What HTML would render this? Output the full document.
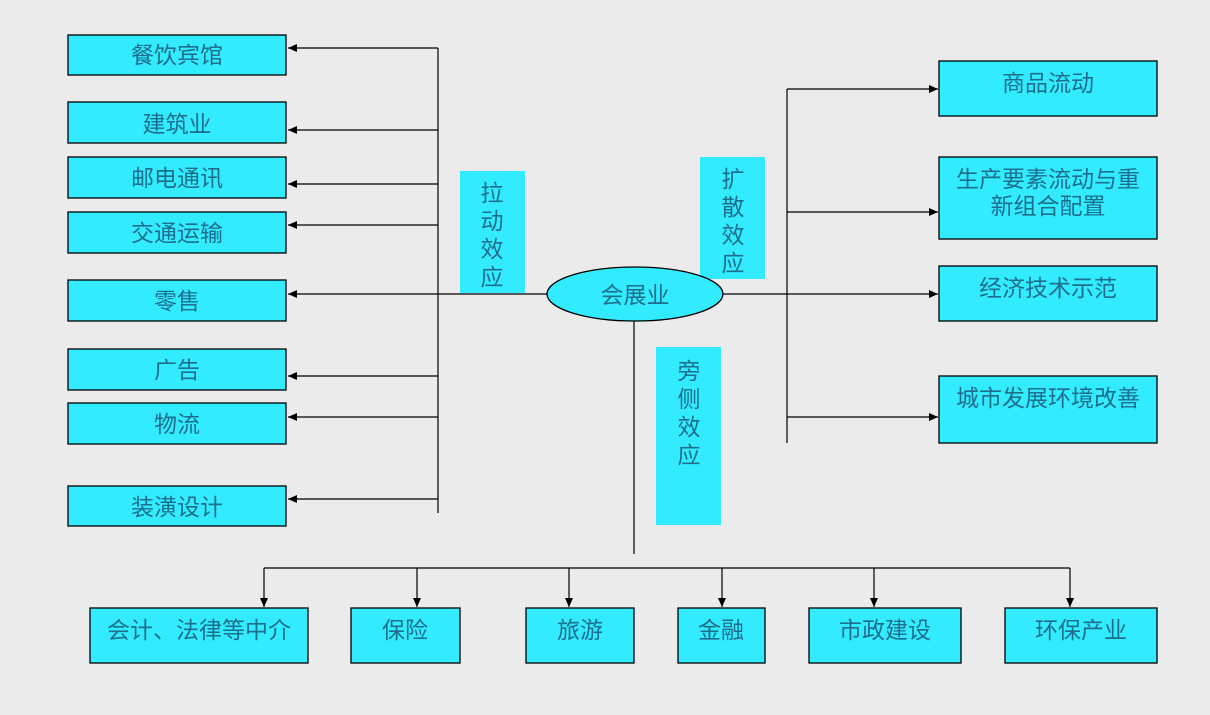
<!DOCTYPE html>
<html><head><meta charset="utf-8"><style>
html,body{margin:0;padding:0;background:#ebebeb;}
svg{display:block}
text{font-family:"Liberation Sans","Noto Sans CJK SC","WenQuanYi Zen Hei",sans-serif;font-size:23px;fill:#1d6f8c;text-anchor:middle}
</style></head><body>
<svg width="1210" height="715" viewBox="0 0 1210 715" xmlns="http://www.w3.org/2000/svg">
<defs><marker id="a" markerWidth="10" markerHeight="10" refX="9" refY="4" orient="auto" markerUnits="userSpaceOnUse"><path d="M0,0 L9,4 L0,8 z" fill="#000"/></marker></defs>
<rect width="1210" height="715" fill="#ebebeb"/>
<g stroke="#000" stroke-width="1.3" fill="#33ebff">
<rect x="68" y="35" width="218" height="40"/>
<rect x="68" y="102" width="218" height="41"/>
<rect x="68" y="157" width="218" height="41"/>
<rect x="68" y="212" width="218" height="41"/>
<rect x="68" y="280" width="218" height="41"/>
<rect x="68" y="349" width="218" height="41"/>
<rect x="68" y="403" width="218" height="41"/>
<rect x="68" y="486" width="218" height="40"/>
<rect x="939" y="61" width="218" height="55"/>
<rect x="939" y="157" width="218" height="82"/>
<rect x="939" y="266" width="218" height="55"/>
<rect x="939" y="376" width="218" height="67"/>
<rect x="90" y="608" width="218" height="55"/>
<rect x="351" y="608" width="109" height="55"/>
<rect x="526" y="608" width="108" height="55"/>
<rect x="678" y="608" width="87" height="55"/>
<rect x="809" y="608" width="152" height="55"/>
<rect x="1005" y="608" width="152" height="55"/>
</g>
<g fill="#33ebff">
<rect x="460" y="171" width="65" height="122"/>
<rect x="700" y="157" width="65" height="122"/>
<rect x="656" y="347" width="65" height="178"/>
</g>
<g stroke="#000" stroke-width="1.2" fill="none">
<line x1="438" y1="48" x2="438" y2="513"/>
<line x1="438" y1="48" x2="288" y2="48" marker-end="url(#a)"/>
<line x1="438" y1="130" x2="288" y2="130" marker-end="url(#a)"/>
<line x1="438" y1="184" x2="288" y2="184" marker-end="url(#a)"/>
<line x1="438" y1="225" x2="288" y2="225" marker-end="url(#a)"/>
<line x1="547" y1="294" x2="288" y2="294" marker-end="url(#a)"/>
<line x1="438" y1="376" x2="288" y2="376" marker-end="url(#a)"/>
<line x1="438" y1="417" x2="288" y2="417" marker-end="url(#a)"/>
<line x1="438" y1="499" x2="288" y2="499" marker-end="url(#a)"/>
<line x1="787" y1="89" x2="787" y2="443"/>
<line x1="787" y1="89" x2="938" y2="89" marker-end="url(#a)"/>
<line x1="787" y1="212" x2="938" y2="212" marker-end="url(#a)"/>
<line x1="722" y1="294" x2="938" y2="294" marker-end="url(#a)"/>
<line x1="787" y1="417" x2="938" y2="417" marker-end="url(#a)"/>
<line x1="634" y1="321" x2="634" y2="554"/>
<line x1="264" y1="568" x2="1070" y2="568"/>
<line x1="264" y1="568" x2="264" y2="607" marker-end="url(#a)"/>
<line x1="417" y1="568" x2="417" y2="607" marker-end="url(#a)"/>
<line x1="569" y1="568" x2="569" y2="607" marker-end="url(#a)"/>
<line x1="722" y1="568" x2="722" y2="607" marker-end="url(#a)"/>
<line x1="874" y1="568" x2="874" y2="607" marker-end="url(#a)"/>
<line x1="1070" y1="568" x2="1070" y2="607" marker-end="url(#a)"/>
</g>
<ellipse cx="635" cy="294" rx="88" ry="27" fill="#33ebff" stroke="#000" stroke-width="1.3"/>
<text x="635" y="303">会展业</text>
<text x="177" y="63">餐饮宾馆</text>
<text x="177" y="132">建筑业</text>
<text x="177" y="186">邮电通讯</text>
<text x="177" y="241">交通运输</text>
<text x="177" y="309">零售</text>
<text x="177" y="378">广告</text>
<text x="177" y="432">物流</text>
<text x="177" y="515">装潢设计</text>
<text x="1048" y="91">商品流动</text>
<text x="1048" y="187">生产要素流动与重</text>
<text x="1048" y="214">新组合配置</text>
<text x="1048" y="296">经济技术示范</text>
<text x="1048" y="406">城市发展环境改善</text>
<text x="199" y="638">会计、法律等中介</text>
<text x="405" y="638">保险</text>
<text x="580" y="638">旅游</text>
<text x="721" y="638">金融</text>
<text x="885" y="638">市政建设</text>
<text x="1081" y="638">环保产业</text>
<text x="492" y="201">拉</text><text x="492" y="229">动</text><text x="492" y="257">效</text><text x="492" y="285">应</text>
<text x="733" y="187">扩</text><text x="733" y="215">散</text><text x="733" y="243">效</text><text x="733" y="271">应</text>
<text x="689" y="379">旁</text><text x="689" y="407">侧</text><text x="689" y="435">效</text><text x="689" y="463">应</text>
</svg>
</body></html>
